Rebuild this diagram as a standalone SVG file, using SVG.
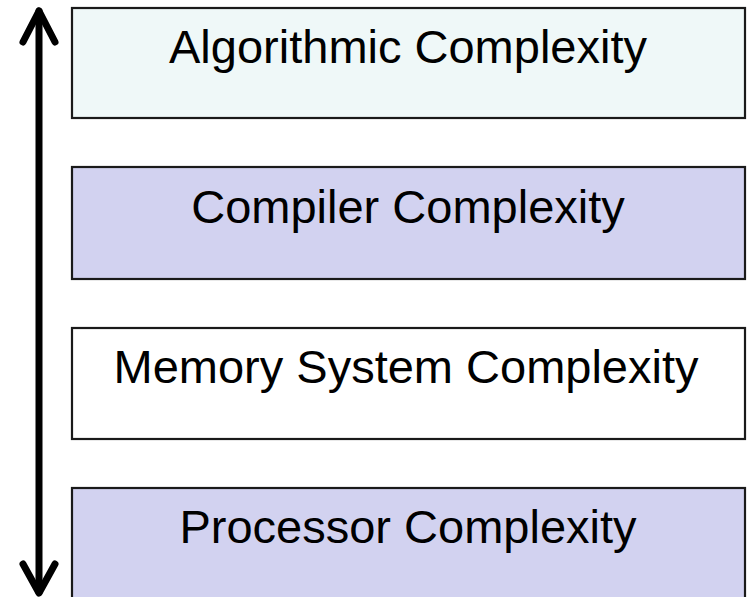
<svg xmlns="http://www.w3.org/2000/svg" width="748" height="597" viewBox="0 0 748 597">
<style>
.box{stroke:#1a1a1a;stroke-width:2.2}
.lbl{font-family:"Liberation Sans",Arial,sans-serif;font-size:47px;fill:#000;text-anchor:middle}
.arr{fill:none;stroke:#000;stroke-width:7;stroke-linecap:round;stroke-linejoin:round}
</style>
<rect width="748" height="597" fill="#fff"/>
<g id="algorithmic">
<rect class="box" x="72" y="8" width="673" height="110" fill="#EFF8F8"/>
<text class="lbl" x="408" y="63">Algorithmic Complexity</text>
</g>
<g id="compiler">
<rect class="box" x="72" y="167" width="673" height="112" fill="#D2D2F0"/>
<text class="lbl" x="408" y="223">Compiler Complexity</text>
</g>
<g id="memory">
<rect class="box" x="72" y="328" width="673" height="111" fill="#FFFFFF"/>
<text class="lbl" x="406" y="383">Memory System Complexity</text>
</g>
<g id="processor">
<rect class="box" x="72" y="488" width="673" height="120" fill="#D2D2F0"/>
<text class="lbl" x="408" y="543">Processor Complexity</text>
</g>
<g id="connectors">
<line class="arr" x1="39" y1="11" x2="39" y2="592"/>
<polyline class="arr" points="23,42 39,11 55,42"/>
<polyline class="arr" points="23,564 39,593 55,564"/>
</g>
</svg>
